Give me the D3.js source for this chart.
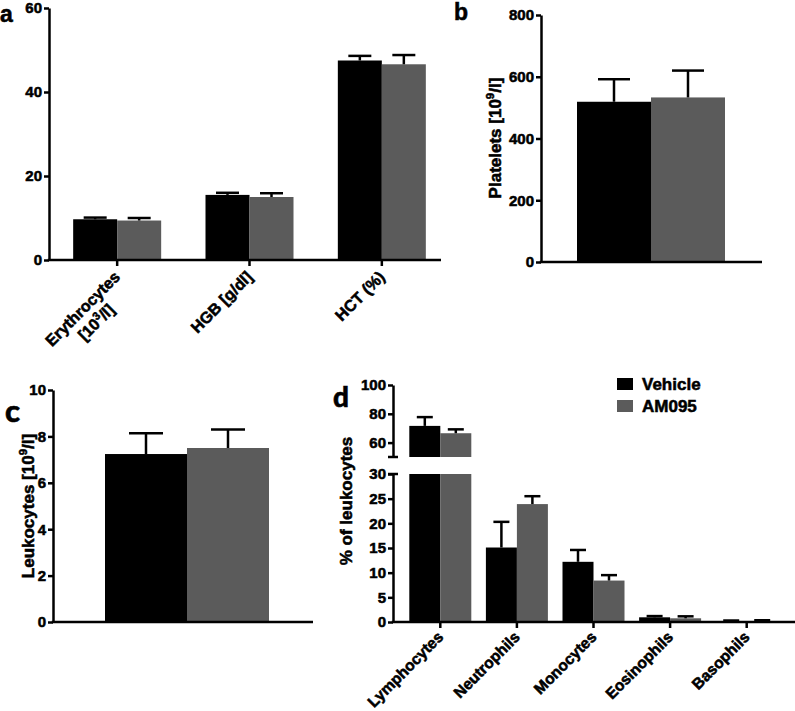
<!DOCTYPE html>
<html><head><meta charset="utf-8">
<script src="https://cdn.jsdelivr.net/npm/d3@7"></script>
<style>
body{margin:0;background:#fff}
svg text{font-family:"Liberation Sans",Arial,sans-serif;font-weight:bold;fill:#000;stroke:#000;stroke-width:0.55px}
</style></head><body>
<svg id="chart" width="795" height="711"></svg>
<script>
// ---------- data ----------
const seriesNames = ["Vehicle", "AM095"];
const seriesColors = ["#000000", "#5b5b5b"];

// panel a
const aCategories = ["Erythrocytes\n[10^3/l]", "HGB [g/dl]", "HCT (%)"];
const aVehicle = [9.7, 15.5, 47.5];
const aVehicleErr = [0.4, 0.5, 1.1];
const aAM095 = [9.4, 15.0, 46.6];
const aAM095Err = [0.6, 0.9, 2.2];
const aTicks = [0, 20, 40, 60];

// panel b
const bCategories = ["Platelets"];
const bVehicle = [519];
const bVehicleErr = [73];
const bAM095 = [533];
const bAM095Err = [87];
const bTicks = [0, 200, 400, 600, 800];

// panel c
const cCategories = ["Leukocytes"];
const cVehicle = [7.24];
const cVehicleErr = [0.9];
const cAM095 = [7.5];
const cAM095Err = [0.8];
const cTicks = [0, 2, 4, 6, 8, 10];

// panel d
const dCategories = ["Lymphocytes", "Neutrophils", "Monocytes", "Eosinophils", "Basophils"];
const dVehicle = [71.6, 15.1, 12.2, 0.95, 0.2];
const dVehicleErr = [6.1, 5.2, 2.4, 0.25, 0.1];
const dAM095 = [66.5, 23.9, 8.4, 0.75, 0.15];
const dAM095Err = [2.7, 1.6, 1.1, 0.4, 0.2];
const dTicksLow = [0, 5, 10, 15, 20, 25, 30];
const dTicksHigh = [60, 80, 100];

// ---------- helpers ----------
const svg = d3.select("#chart");
const AX_W = 2.5;

function richText(sel, str, fs) {
  // supports ^x superscripts
  const parts = str.split(/(\^\w)/).filter(p => p);
  let pendingDy = 0;
  parts.forEach(p => {
    if (p[0] === "^") {
      sel.append("tspan").attr("dy", pendingDy - fs * 0.4).style("font-size", (fs * 0.68) + "px").text(p.slice(1));
      pendingDy = fs * 0.4;
    } else {
      const t = sel.append("tspan").text(p);
      if (pendingDy) t.attr("dy", pendingDy);
      pendingDy = 0;
    }
  });
}

function styleAxis(g, fs) {
  g.attr("font-family", null).attr("font-size", null);
  g.selectAll(".domain").attr("stroke", "#000").attr("stroke-width", AX_W);
  g.selectAll(".tick line").attr("stroke", "#000").attr("stroke-width", AX_W);
  g.selectAll(".tick text").style("font-size", fs + "px").attr("fill", "#000");
}

function drawYAxis(g, y, ticks, x) {
  const ax = g.append("g").attr("transform", `translate(${x},0)`)
    .call(d3.axisLeft(y).tickValues(ticks).tickSize(5).tickSizeOuter(0).tickPadding(2));
  styleAxis(ax, 15);
  return ax;
}

function drawXAxisLine(g, x0, x1, y) {
  g.append("line").attr("x1", x0 - AX_W / 2).attr("x2", x1).attr("y1", y).attr("y2", y)
    .attr("stroke", "#000").attr("stroke-width", AX_W);
}

function drawXTicks(g, xb, cats, y, fs, dx, dy) {
  cats.forEach(c => {
    const cx = xb(c) + xb.bandwidth() / 2;
    g.append("line").attr("x1", cx).attr("x2", cx).attr("y1", y).attr("y2", y + 6)
      .attr("stroke", "#000").attr("stroke-width", AX_W);
    const lg = g.append("g").attr("transform", `translate(${cx + dx},${y + dy}) rotate(-45)`);
    const lines = c.split("\n");
    const t0 = lg.append("text").attr("text-anchor", "end").style("font-size", fs + "px");
    richText(t0, lines[0], fs);
    if (lines.length > 1) {
      const w = t0.node().getComputedTextLength();
      const t1 = lg.append("text").attr("text-anchor", "middle").attr("x", -w / 2).attr("y", fs * 1.2)
        .style("font-size", fs + "px");
      richText(t1, lines[1], fs);
    }
  });
}

function drawErr(g, cx, yv, ye, cap) {
  g.append("line").attr("x1", cx).attr("x2", cx).attr("y1", yv).attr("y2", ye)
    .attr("stroke", "#000").attr("stroke-width", AX_W);
  g.append("line").attr("x1", cx - cap / 2).attr("x2", cx + cap / 2).attr("y1", ye).attr("y2", ye)
    .attr("stroke", "#000").attr("stroke-width", AX_W);
}

function yTitle(g, str, x, y, fs) {
  const t = g.append("text").attr("transform", `translate(${x},${y}) rotate(-90)`)
    .attr("text-anchor", "middle").style("font-size", fs + "px");
  richText(t, str, fs);
}

function panelLetter(str, x, y, fs, family) {
  svg.append("text").attr("x", x).attr("y", y).style("font-size", fs + "px")
    .style("font-family", family).style("font-weight", "900").text(str);
}

// simple (non-broken) panel
function simplePanel(o) {
  const g = svg.append("g");
  const y = d3.scaleLinear().domain([o.ticks[0], o.ticks[o.ticks.length - 1]]).range([o.y0, o.y1]);
  const xb = d3.scaleBand().domain(o.cats).range(o.xRange);
  const series = [[o.v1, o.e1], [o.v2, o.e2]];
  o.cats.forEach((c, i) => {
    const cx = xb(c) + xb.bandwidth() / 2;
    series.forEach((s, k) => {
      const x0 = cx + (k === 0 ? -o.barW : 0);
      g.append("rect").attr("x", x0).attr("width", o.barW)
        .attr("y", y(s[0][i])).attr("height", y(0) - y(s[0][i])).attr("fill", seriesColors[k]);
    });
    series.forEach((s, k) => {
      const bx = cx + (k === 0 ? -o.barW / 2 : o.barW / 2);
      drawErr(g, bx, y(s[0][i]), y(s[0][i] + s[1][i]), o.cap);
    });
  });
  drawXAxisLine(g, o.axisX, o.xEnd, o.y0);
  drawYAxis(g, y, o.ticks, o.axisX);
  if (o.showTicks) drawXTicks(g, xb, o.cats, o.y0, 16, 4, 18);
  return g;
}

// ---------- panel a ----------
simplePanel({cats: aCategories, v1: aVehicle, e1: aVehicleErr, v2: aAM095, e2: aAM095Err,
  ticks: aTicks, y0: 260, y1: 8, axisX: 49, xEnd: 441, xRange: [51, 448], barW: 44, cap: 23, showTicks: true});
panelLetter("a", 0, 22, 23, "Liberation Sans");

// ---------- panel b ----------
{
  const g = simplePanel({cats: bCategories, v1: bVehicle, e1: bVehicleErr, v2: bAM095, e2: bAM095Err,
    ticks: bTicks, y0: 262, y1: 15, axisX: 541, xEnd: 762, xRange: [577, 725], barW: 74, cap: 32, showTicks: false});
  yTitle(g, "Platelets [10^9/l]", 501, 138, 17);
}
panelLetter("b", 454, 20, 23, "Liberation Sans");

// ---------- panel c ----------
{
  const g = simplePanel({cats: cCategories, v1: cVehicle, e1: cVehicleErr, v2: cAM095, e2: cAM095Err,
    ticks: cTicks, y0: 622, y1: 390, axisX: 53, xEnd: 313, xRange: [105, 269], barW: 82, cap: 34, showTicks: false});
  yTitle(g, "Leukocytes [10^9/l]", 34, 506, 17);
}
panelLetter("c", 5, 422, 31, "Lato");

// ---------- panel d ----------
{
  const g = svg.append("g");
  const yLow = d3.scaleLinear().domain([0, 30]).range([622, 474]);
  const yHigh = d3.scaleLinear().domain([50, 100]).range([457, 385]);
  const yPos = v => v <= 30 ? yLow(v) : yHigh(v);
  const xb = d3.scaleBand().domain(dCategories).range([402, 785]);
  const barW = 31, cap = 16;
  const series = [[dVehicle, dVehicleErr], [dAM095, dAM095Err]];
  dCategories.forEach((c, i) => {
    const cx = xb(c) + xb.bandwidth() / 2;
    series.forEach((s, k) => {
      const x0 = cx + (k === 0 ? -barW : 0);
      const v = s[0][i];
      if (v <= 30) {
        g.append("rect").attr("x", x0).attr("width", barW).attr("y", yLow(v))
          .attr("height", yLow(0) - yLow(v)).attr("fill", seriesColors[k]);
      } else {
        g.append("rect").attr("x", x0).attr("width", barW).attr("y", yLow(30))
          .attr("height", yLow(0) - yLow(30)).attr("fill", seriesColors[k]);
        g.append("rect").attr("x", x0).attr("width", barW).attr("y", yHigh(v))
          .attr("height", yHigh(50) - yHigh(v)).attr("fill", seriesColors[k]);
      }
    });
    series.forEach((s, k) => {
      const bx = cx + (k === 0 ? -barW / 2 : barW / 2);
      drawErr(g, bx, yPos(s[0][i]), yPos(s[0][i] + s[1][i]), cap);
    });
  });
  drawXAxisLine(g, 393, 795, 622);
  drawYAxis(g, yLow, dTicksLow, 393);
  drawYAxis(g, yHigh, dTicksHigh, 393);
  // break marks
  [yHigh(50), yLow(30)].forEach(yy => {
    g.append("line").attr("x1", 388).attr("x2", 398).attr("y1", yy).attr("y2", yy)
      .attr("stroke", "#000").attr("stroke-width", AX_W);
  });
  drawXTicks(g, xb, dCategories, 622, 15.5, 4, 16);
  yTitle(g, "% of leukocytes", 352, 501, 17);

  // legend
  seriesNames.forEach((n, k) => {
    const ly = 378 + k * 22;
    g.append("rect").attr("x", 617).attr("y", ly).attr("width", 16).attr("height", 12).attr("fill", seriesColors[k]);
    g.append("text").attr("x", 642).attr("y", ly + 12).style("font-size", "17px").text(n);
  });
}
panelLetter("d", 333, 407, 28, "Lato");
</script>
</body></html>
